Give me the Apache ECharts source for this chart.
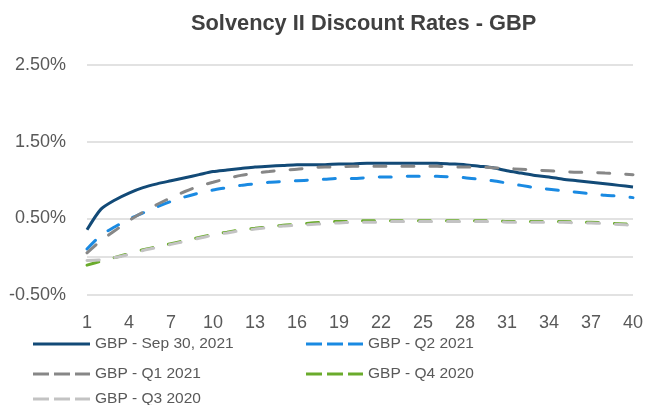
<!DOCTYPE html>
<html>
<head>
<meta charset="utf-8">
<script src="https://cdn.jsdelivr.net/npm/echarts@6/dist/echarts.min.js"></script>
<style>html,body{margin:0;padding:0;background:#fff;}#c{width:647px;height:405px;}</style>
</head>
<body>
<div id="c"></div>
<script>
var categories = ['1','2','3','4','5','6','7','8','9','10','11','12','13','14','15','16','17','18','19','20','21','22','23','24','25','26','27','28','29','30','31','32','33','34','35','36','37','38','39','40'];
var seriesNames = ['GBP - Sep 30, 2021','GBP - Q2 2021','GBP - Q1 2021','GBP - Q4 2020','GBP - Q3 2020'];
var sep30 = [0.35,0.62,0.74,0.83,0.90,0.95,0.99,1.03,1.07,1.11,1.13,1.15,1.17,1.18,1.19,1.20,1.20,1.20,1.21,1.21,1.22,1.22,1.22,1.22,1.22,1.22,1.21,1.20,1.18,1.16,1.12,1.09,1.06,1.04,1.01,0.99,0.97,0.95,0.93,0.91];
var q2_2021 = [0.10,0.28,0.39,0.49,0.57,0.65,0.72,0.78,0.83,0.87,0.90,0.93,0.95,0.97,0.98,0.99,1.00,1.01,1.02,1.02,1.03,1.04,1.04,1.05,1.05,1.05,1.04,1.03,1.01,0.99,0.96,0.93,0.90,0.88,0.86,0.84,0.82,0.80,0.79,0.77];
var q1_2021 = [0.05,0.21,0.34,0.47,0.58,0.68,0.77,0.85,0.92,0.97,1.02,1.06,1.09,1.11,1.13,1.14,1.16,1.17,1.17,1.18,1.18,1.18,1.18,1.18,1.18,1.18,1.17,1.17,1.17,1.16,1.15,1.14,1.13,1.12,1.11,1.10,1.10,1.09,1.08,1.07];
var q4_2020 = [-0.11,-0.06,-0.01,0.04,0.09,0.13,0.17,0.21,0.25,0.29,0.32,0.35,0.37,0.39,0.41,0.42,0.44,0.45,0.46,0.46,0.47,0.47,0.47,0.47,0.47,0.47,0.47,0.47,0.47,0.47,0.46,0.46,0.46,0.46,0.46,0.45,0.45,0.44,0.43,0.42];
var q3_2020 = [-0.05,-0.04,-0.01,0.03,0.08,0.12,0.16,0.20,0.24,0.28,0.31,0.34,0.36,0.38,0.40,0.41,0.42,0.43,0.44,0.45,0.45,0.45,0.46,0.46,0.46,0.46,0.46,0.46,0.46,0.46,0.45,0.45,0.45,0.45,0.45,0.44,0.44,0.43,0.42,0.41];
var yTicks = {min: -0.5, max: 2.5, interval: 1};

var colors = ['#124a77', '#1a8ae2', '#878787', '#6aab2c', '#c3c3c3'];
var dataSets = [sep30, q2_2021, q1_2021, q4_2020, q3_2020];
var font = "'Liberation Sans', Arial, sans-serif";
var dashIcon = 'path://M0,0h16v3h-16z M21,0h16v3h-16z M42,0h15v3h-15z';
var solidIcon = 'path://M0,0h57v3h-57z';

var series = dataSets.map(function (d, i) {
  var s = {
    name: seriesNames[i],
    type: 'line',
    data: d,
    symbol: 'none',
    smooth: 0.25,
    z: 2 + i,
    lineStyle: {color: colors[i], width: 3, type: i === 0 ? 'solid' : [12, 16], cap: i === 0 ? 'butt' : 'round'},
    itemStyle: {color: colors[i]}
  };
  if (i === 0) {
    s.markLine = {
      silent: true, symbol: 'none', label: {show: false},
      lineStyle: {color: '#d9d9d9', width: 1.5, type: 'solid'},
      data: [{yAxis: 0}], z: 1
    };
  }
  return s;
});

// legend slots: [series index, left, top]
var legendSlots = [[0, 33, 336], [1, 306, 336], [2, 33, 366], [3, 306, 366], [4, 33, 391]];
var legends = legendSlots.map(function (slot) {
  var i = slot[0];
  return {
    left: slot[1], top: slot[2], padding: 0,
    itemWidth: 57, itemHeight: 3,
    textStyle: {fontFamily: font, fontSize: 15.5, color: '#595959'},
    selectedMode: false,
    data: [{name: seriesNames[i], icon: i === 0 ? solidIcon : dashIcon}]
  };
});

var chart = echarts.init(document.getElementById('c'), null, {renderer: 'canvas'});
chart.setOption({
  animation: false,
  backgroundColor: '#ffffff',
  color: colors,
  title: {
    text: 'Solvency II Discount Rates - GBP',
    left: 186, top: 8,
    textStyle: {fontFamily: font, fontSize: 21.8, fontWeight: 'bold', color: '#404040'}
  },
  legend: legends,
  grid: {left: 87, right: 14, top: 65, bottom: 110, containLabel: false},
  xAxis: {
    type: 'category',
    data: categories,
    boundaryGap: false,
    axisLine: {show: false},
    axisTick: {show: false},
    splitLine: {show: false},
    axisLabel: {interval: 2, margin: 19, fontFamily: font, fontSize: 18, color: '#595959'}
  },
  yAxis: {
    type: 'value',
    min: yTicks.min, max: yTicks.max, interval: yTicks.interval,
    axisLine: {show: false},
    axisTick: {show: false},
    splitLine: {lineStyle: {color: '#d9d9d9', width: 1.5}},
    axisLabel: {
      margin: 21, fontFamily: font, fontSize: 18, color: '#595959',
      formatter: function (v) { return v.toFixed(2) + '%'; }
    }
  },
  series: series
});
</script>
</body>
</html>
